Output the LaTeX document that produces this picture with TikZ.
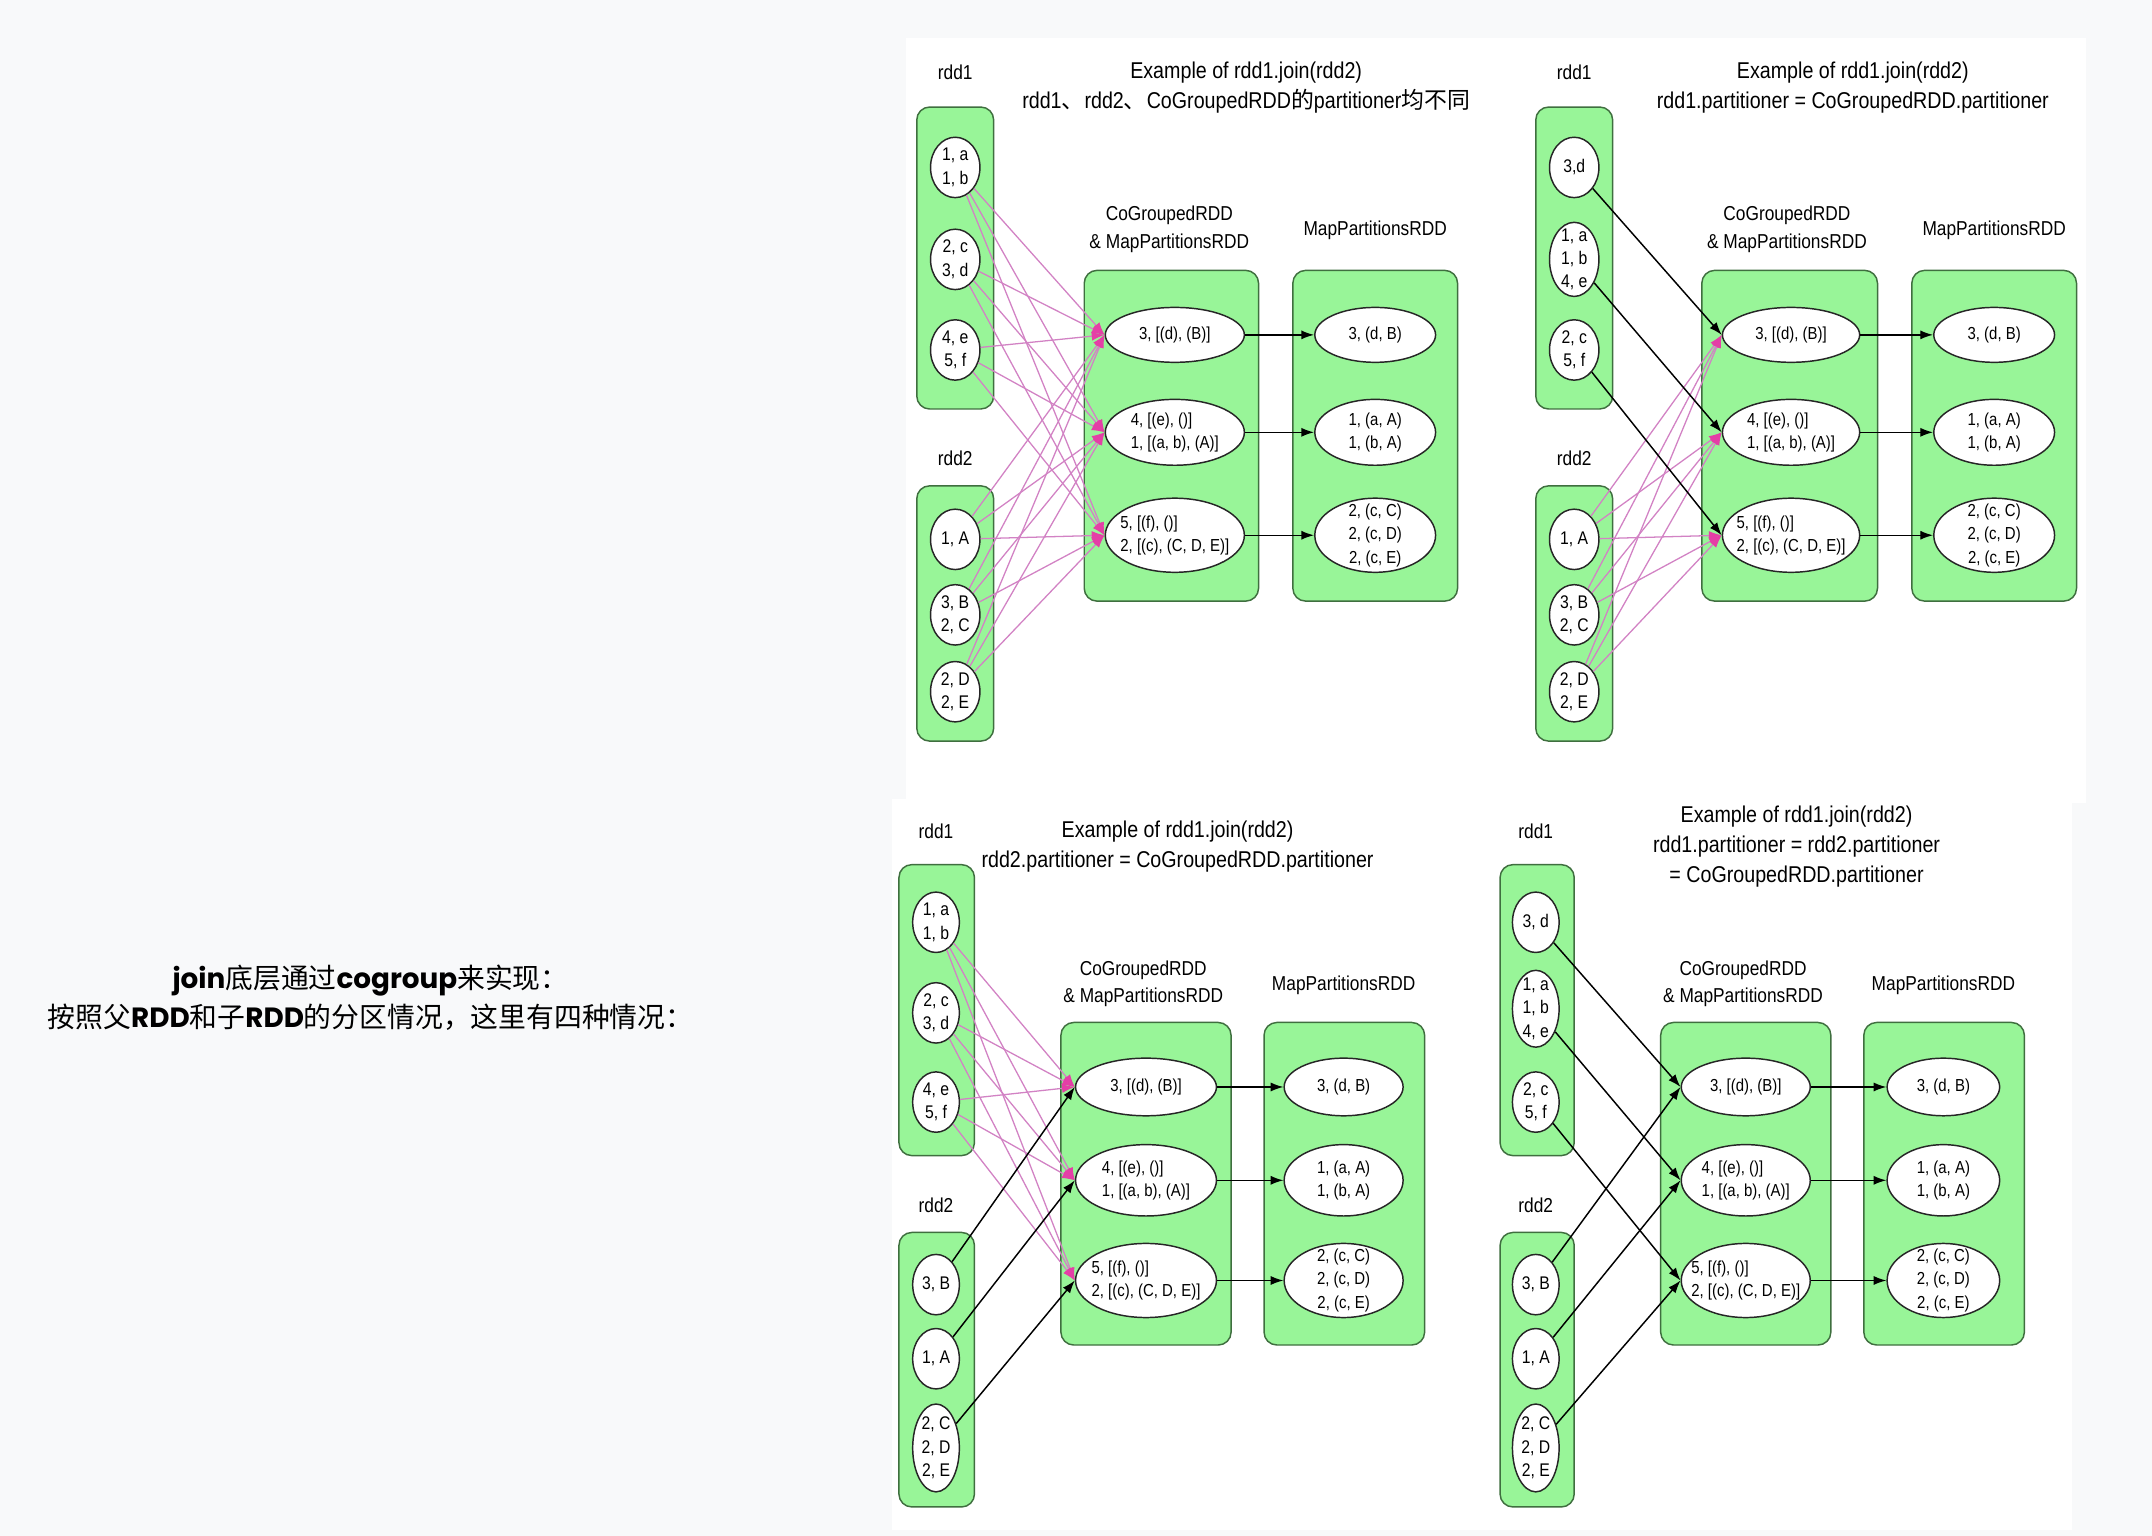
\documentclass[tikz,border=0pt]{standalone}
\usepackage{fontspec}
\setmainfont{Liberation Sans}[FakeStretch=0.86]
\newfontfamily\cjk{Noto Sans CJK SC}
\newfontfamily\roundfont{Poppins}
\usetikzlibrary{arrows.meta, shapes.geometric}

\definecolor{pagebg}{HTML}{F8F9FA}
\definecolor{rddgreen}{HTML}{98F598}
\definecolor{rddedge}{HTML}{3F6F3F}
\definecolor{shufline}{HTML}{D282C4}
\definecolor{shufhead}{HTML}{E43FA6}

\begin{document}
\begin{tikzpicture}[
    x=0.75pt, y=-0.75pt,
    >=Latex, % Set default arrow tip style
    rddbox/.style={draw=rddedge, fill=rddgreen, rounded corners=7pt, line width=0.8pt},
    rec/.style={ellipse, draw=black!85, fill=white, line width=0.8pt, inner xsep=-6pt, inner ysep=-5pt,
        align=center, font=\fontsize{9.5}{12.75}\selectfont},
    part/.style={rec, minimum width=27pt, minimum height=33pt, font=\fontsize{10}{12.75}\selectfont},
    cg/.style={rec, align=left, minimum width=76pt},
    mp/.style={rec, minimum width=66pt},
    lbl/.style={align=center, font=\fontsize{11}{15}\selectfont},
    ttl/.style={align=center, font=\fontsize{12.5}{16.5}\selectfont},
    shuffle/.style={draw=shufline, line width=0.7pt, -{Latex[length=7pt, width=5pt, color=shufhead]}},
    narrow/.style={draw=black, line width=0.8pt, -{Latex[length=7pt, width=5pt]}}
]

    % Page and the two screenshots
    \fill[pagebg] (0,0) rectangle (1568,1119);
    \useasboundingbox (0,0) rectangle (1568,1119);
    \fill[white] (660,28) rectangle (1520,585);
    \fill[white] (650,582) rectangle (1510,1115);

    % Caption on the left
    \node[align=center, font=\fontsize{15.2}{21.75}\selectfont] (caption) at (270,727)
        {{\roundfont\bfseries join}{\cjk 底层通过}{\roundfont\bfseries cogroup}{\cjk 来实现：}\\
         {\cjk 按照父}{\roundfont\bfseries RDD}{\cjk 和子}{\roundfont\bfseries RDD}{\cjk 的分区情况，这里有四种情况：}};

    %%% Top left: no partitioner shared
    \node[ttl] (tl-title) at (908,64)
        {Example of rdd1.join(rdd2)\\
         rdd1{\cjk 、}rdd2{\cjk 、}CoGroupedRDD{\cjk 的}partitioner{\cjk 均不同}};
    \node[lbl] (tl-rdd1) at (696,53) {rdd1};
    \node[lbl] (tl-rdd2) at (696,334) {rdd2};
    \node[lbl] (tl-cglbl) at (852,167) {CoGroupedRDD\\\& MapPartitionsRDD};
    \node[lbl] (tl-mplbl) at (1002,168) {MapPartitionsRDD};
    \draw[rddbox] (668,78) rectangle (724,298);
    \draw[rddbox] (668,354) rectangle (724,540);
    \draw[rddbox] (790,197) rectangle (917,438);
    \draw[rddbox] (942,197) rectangle (1062,438);
    % partitions
    \node[part] (tl-a1) at (696,122) {1, a\\1, b};
    \node[part] (tl-a2) at (696,189) {2, c\\3, d};
    \node[part] (tl-a3) at (696,255) {4, e\\5, f};
    \node[part] (tl-b1) at (696,393) {1, A};
    \node[part] (tl-b2) at (696,448) {3, B\\2, C};
    \node[part] (tl-b3) at (696,504) {2, D\\2, E};
    \node[cg, minimum height=30pt] (tl-c1) at (856,244) {3, [(d), (B)]};
    \node[cg, minimum height=36pt] (tl-c2) at (856,315) {4, [(e), ()]\\1, [(a, b), (A)]};
    \node[cg, minimum height=40.5pt] (tl-c3) at (856,390) {5, [(f), ()]\\2, [(c), (C, D, E)]};
    \node[mp, minimum height=30pt] (tl-m1) at (1002,244) {3, (d, B)};
    \node[mp, minimum height=36pt] (tl-m2) at (1002,315) {1, (a, A)\\1, (b, A)};
    \node[mp, minimum height=40.5pt] (tl-m3) at (1002,390) {2, (c, C)\\2, (c, D)\\2, (c, E)};
    % every parent partition feeds every cogroup partition
    \foreach \s in {tl-a1,tl-a2,tl-a3,tl-b1,tl-b2,tl-b3}
        \foreach \t in {tl-c1,tl-c2,tl-c3}
            \draw[shuffle] (\s) -- (\t.west);
    \foreach \i in {1,2,3}
        \draw[narrow] (tl-c\i) -- (tl-m\i);

    %%% Top right: rdd1 shares the partitioner
    \node[ttl] (tr-title) at (1350,64)
        {Example of rdd1.join(rdd2)\\rdd1.partitioner = CoGroupedRDD.partitioner};
    \node[lbl] (tr-rdd1) at (1147,53) {rdd1};
    \node[lbl] (tr-rdd2) at (1147,334) {rdd2};
    \node[lbl] (tr-cglbl) at (1302,167) {CoGroupedRDD\\\& MapPartitionsRDD};
    \node[lbl] (tr-mplbl) at (1453,168) {MapPartitionsRDD};
    \draw[rddbox] (1119,78) rectangle (1175,298);
    \draw[rddbox] (1119,354) rectangle (1175,540);
    \draw[rddbox] (1240,197) rectangle (1368,438);
    \draw[rddbox] (1393,197) rectangle (1513,438);
    \node[part] (tr-a1) at (1147,122) {3,d};
    \node[part, minimum height=40.5pt] (tr-a2) at (1147,189) {1, a\\1, b\\4, e};
    \node[part] (tr-a3) at (1147,255) {2, c\\5, f};
    \node[part] (tr-b1) at (1147,393) {1, A};
    \node[part] (tr-b2) at (1147,448) {3, B\\2, C};
    \node[part] (tr-b3) at (1147,504) {2, D\\2, E};
    \node[cg, minimum width=75pt, minimum height=30pt] (tr-c1) at (1305,244) {3, [(d), (B)]};
    \node[cg, minimum width=75pt, minimum height=36pt] (tr-c2) at (1305,315) {4, [(e), ()]\\1, [(a, b), (A)]};
    \node[cg, minimum width=75pt, minimum height=40.5pt] (tr-c3) at (1305,390) {5, [(f), ()]\\2, [(c), (C, D, E)]};
    \node[mp, minimum height=30pt] (tr-m1) at (1453,244) {3, (d, B)};
    \node[mp, minimum height=36pt] (tr-m2) at (1453,315) {1, (a, A)\\1, (b, A)};
    \node[mp, minimum height=40.5pt] (tr-m3) at (1453,390) {2, (c, C)\\2, (c, D)\\2, (c, E)};
    \foreach \s in {tr-b1,tr-b2,tr-b3}
        \foreach \t in {tr-c1,tr-c2,tr-c3}
            \draw[shuffle] (\s) -- (\t.west);
    \foreach \i in {1,2,3} {
        \draw[narrow] (tr-a\i) -- (tr-c\i.west);
        \draw[narrow] (tr-c\i) -- (tr-m\i);
    }

    %%% Bottom left: rdd2 shares the partitioner
    \node[ttl] (bl-title) at (858,617)
        {Example of rdd1.join(rdd2)\\rdd2.partitioner = CoGroupedRDD.partitioner};
    \node[lbl] (bl-rdd1) at (682,606) {rdd1};
    \node[lbl] (bl-rdd2) at (682,878) {rdd2};
    \node[lbl] (bl-cglbl) at (833,717) {CoGroupedRDD\\\& MapPartitionsRDD};
    \node[lbl] (bl-mplbl) at (979,718) {MapPartitionsRDD};
    \draw[rddbox] (655,630) rectangle (710,842);
    \draw[rddbox] (655,898) rectangle (710,1098);
    \draw[rddbox] (773,745) rectangle (897,980);
    \draw[rddbox] (921,745) rectangle (1038,980);
    \node[part, minimum width=25.5pt] (bl-a1) at (682,672) {1, a\\1, b};
    \node[part, minimum width=25.5pt] (bl-a2) at (682,738) {2, c\\3, d};
    \node[part, minimum width=25.5pt] (bl-a3) at (682,803) {4, e\\5, f};
    \node[part, minimum width=25.5pt] (bl-b1) at (682,936) {3, B};
    \node[part, minimum width=25.5pt] (bl-b2) at (682,990) {1, A};
    \node[part, minimum width=25.5pt, minimum height=48pt] (bl-b3) at (682,1055) {2, C\\2, D\\2, E};
    \node[cg, minimum width=77pt, minimum height=31.5pt] (bl-c1) at (835,792) {3, [(d), (B)]};
    \node[cg, minimum width=77pt, minimum height=39pt] (bl-c2) at (835,860) {4, [(e), ()]\\1, [(a, b), (A)]};
    \node[cg, minimum width=77pt, minimum height=40.5pt] (bl-c3) at (835,933) {5, [(f), ()]\\2, [(c), (C, D, E)]};
    \node[mp, minimum width=65pt, minimum height=31.5pt] (bl-m1) at (979,792) {3, (d, B)};
    \node[mp, minimum width=65pt, minimum height=39pt] (bl-m2) at (979,860) {1, (a, A)\\1, (b, A)};
    \node[mp, minimum width=65pt, minimum height=40.5pt] (bl-m3) at (979,933) {2, (c, C)\\2, (c, D)\\2, (c, E)};
    \foreach \s in {bl-a1,bl-a2,bl-a3}
        \foreach \t in {bl-c1,bl-c2,bl-c3}
            \draw[shuffle] (\s) -- (\t.west);
    \foreach \i in {1,2,3} {
        \draw[narrow] (bl-b\i) -- (bl-c\i.west);
        \draw[narrow] (bl-c\i) -- (bl-m\i);
    }

    %%% Bottom right: all three share the partitioner
    \node[ttl] (br-title) at (1309,617)
        {Example of rdd1.join(rdd2)\\rdd1.partitioner = rdd2.partitioner\\= CoGroupedRDD.partitioner};
    \node[lbl] (br-rdd1) at (1119,606) {rdd1};
    \node[lbl] (br-rdd2) at (1119,878) {rdd2};
    \node[lbl] (br-cglbl) at (1270,717) {CoGroupedRDD\\\& MapPartitionsRDD};
    \node[lbl] (br-mplbl) at (1416,718) {MapPartitionsRDD};
    \draw[rddbox] (1093,630) rectangle (1147,842);
    \draw[rddbox] (1093,898) rectangle (1147,1098);
    \draw[rddbox] (1210,745) rectangle (1334,980);
    \draw[rddbox] (1358,745) rectangle (1475,980);
    \node[part, minimum width=25.5pt] (br-a1) at (1119,672) {3, d};
    \node[part, minimum width=25.5pt, minimum height=42pt] (br-a2) at (1119,735) {1, a\\1, b\\4, e};
    \node[part, minimum width=25.5pt] (br-a3) at (1119,803) {2, c\\5, f};
    \node[part, minimum width=25.5pt] (br-b1) at (1119,936) {3, B};
    \node[part, minimum width=25.5pt] (br-b2) at (1119,990) {1, A};
    \node[part, minimum width=25.5pt, minimum height=48pt] (br-b3) at (1119,1055) {2, C\\2, D\\2, E};
    \node[cg, minimum width=70.5pt, minimum height=31.5pt] (br-c1) at (1272,792) {3, [(d), (B)]};
    \node[cg, minimum width=70.5pt, minimum height=39pt] (br-c2) at (1272,860) {4, [(e), ()]\\1, [(a, b), (A)]};
    \node[cg, minimum width=70.5pt, minimum height=40.5pt] (br-c3) at (1272,933) {5, [(f), ()]\\2, [(c), (C, D, E)]};
    \node[mp, minimum width=61.5pt, minimum height=31.5pt] (br-m1) at (1416,792) {3, (d, B)};
    \node[mp, minimum width=61.5pt, minimum height=39pt] (br-m2) at (1416,860) {1, (a, A)\\1, (b, A)};
    \node[mp, minimum width=61.5pt, minimum height=40.5pt] (br-m3) at (1416,933) {2, (c, C)\\2, (c, D)\\2, (c, E)};
    \foreach \i in {1,2,3} {
        \draw[narrow] (br-a\i) -- (br-c\i.west);
        \draw[narrow] (br-b\i) -- (br-c\i.west);
        \draw[narrow] (br-c\i) -- (br-m\i);
    }

\end{tikzpicture}
\end{document}
